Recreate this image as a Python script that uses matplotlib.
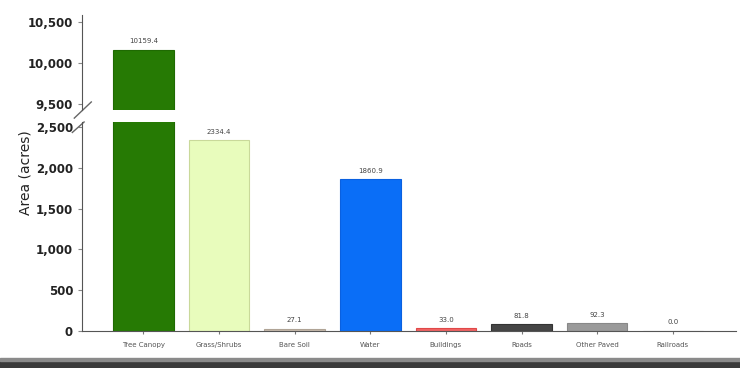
import numpy as np
import matplotlib.pyplot as plt
from matplotlib.patches import Rectangle

categories = ["Tree Canopy", "Grass/Shrubs", "Bare Soil", "Water",
              "Buildings", "Roads", "Other Paved", "Railroads"]
area = [10159.4, 2334.4, 27.1, 1860.9, 33.0, 81.8, 92.3, 0.0]
colors = ["#267a04", "#e8fcbc", "#c9bcae", "#0a6ef7",
          "#f06464", "#454545", "#9a9a9a", "#9a9a9a"]
edges = ["#1f6a02", "#c9d99a", "#b0a496", "#0a60e0",
         "#e04848", "#333333", "#888888", "#888888"]
upper_ticks = [9500, 10000, 10500]
lower_ticks = [0, 500, 1000, 1500, 2000, 2500]

fig = plt.figure(figsize=(7.4, 3.68), dpi=100)
ax_top = fig.add_axes([0.111, 0.701, 0.883, 0.258])
ax_bot = fig.add_axes([0.111, 0.1005, 0.883, 0.568])

x = np.arange(len(categories))
for ax in (ax_top, ax_bot):
    ax.bar(x, area, width=0.8, color=colors, edgecolor=edges, linewidth=0.8)
    ax.set_xlim(-0.81, 7.83)
    for s in ["top", "right"]:
        ax.spines[s].set_visible(False)
    ax.spines["left"].set_color("#555555")
    ax.tick_params(axis="y", labelsize=8.5, length=3, color="#888888",
                   labelcolor="#222222")

ax_top.set_ylim(9427, 10585)
ax_top.set_yticks(upper_ticks)
ax_top.set_yticklabels([f"{v:,}" for v in upper_ticks], fontweight="bold")
ax_top.spines["bottom"].set_visible(False)
ax_top.set_xticks([])

ax_bot.set_ylim(0, 2560)
ax_bot.set_yticks(lower_ticks)
ax_bot.set_yticklabels([f"{v:,}" for v in lower_ticks], fontweight="bold")
ax_bot.spines["bottom"].set_color("#555555")
ax_bot.set_xticks(x)
ax_bot.set_xticklabels(categories, fontsize=5, color="#555555")
ax_bot.tick_params(axis="x", length=2, color="#777777", pad=6)

# value labels
for i, v in enumerate(area):
    target = ax_top if v > 9000 else ax_bot
    target.annotate(f"{v:.1f}", (i, v), xytext=(0, 4), textcoords="offset points",
                    ha="center", va="bottom", fontsize=5, color="#444444")

# axis break marks
kw = dict(color="#666666", lw=1, clip_on=False)
ax_top.plot([-0.012, 0.014], [-0.085, 0.085], transform=ax_top.transAxes, **kw)
ax_bot.plot([-0.015, 0.003], [0.95, 1.0], transform=ax_bot.transAxes, **kw)

fig.text(0.034, 0.53, "Area (acres)", rotation=90, ha="center", va="center",
         fontsize=10, color="#222222")

# dark strip along the bottom edge
fig.patches.append(Rectangle((0, 0), 1, 0.02, transform=fig.transFigure,
                             color="#3a3a3a", zorder=0))
fig.patches.append(Rectangle((0, 0.02), 1, 0.006, transform=fig.transFigure,
                             color="#8a8a8a", zorder=0))

fig.savefig("out.png", dpi=100)
